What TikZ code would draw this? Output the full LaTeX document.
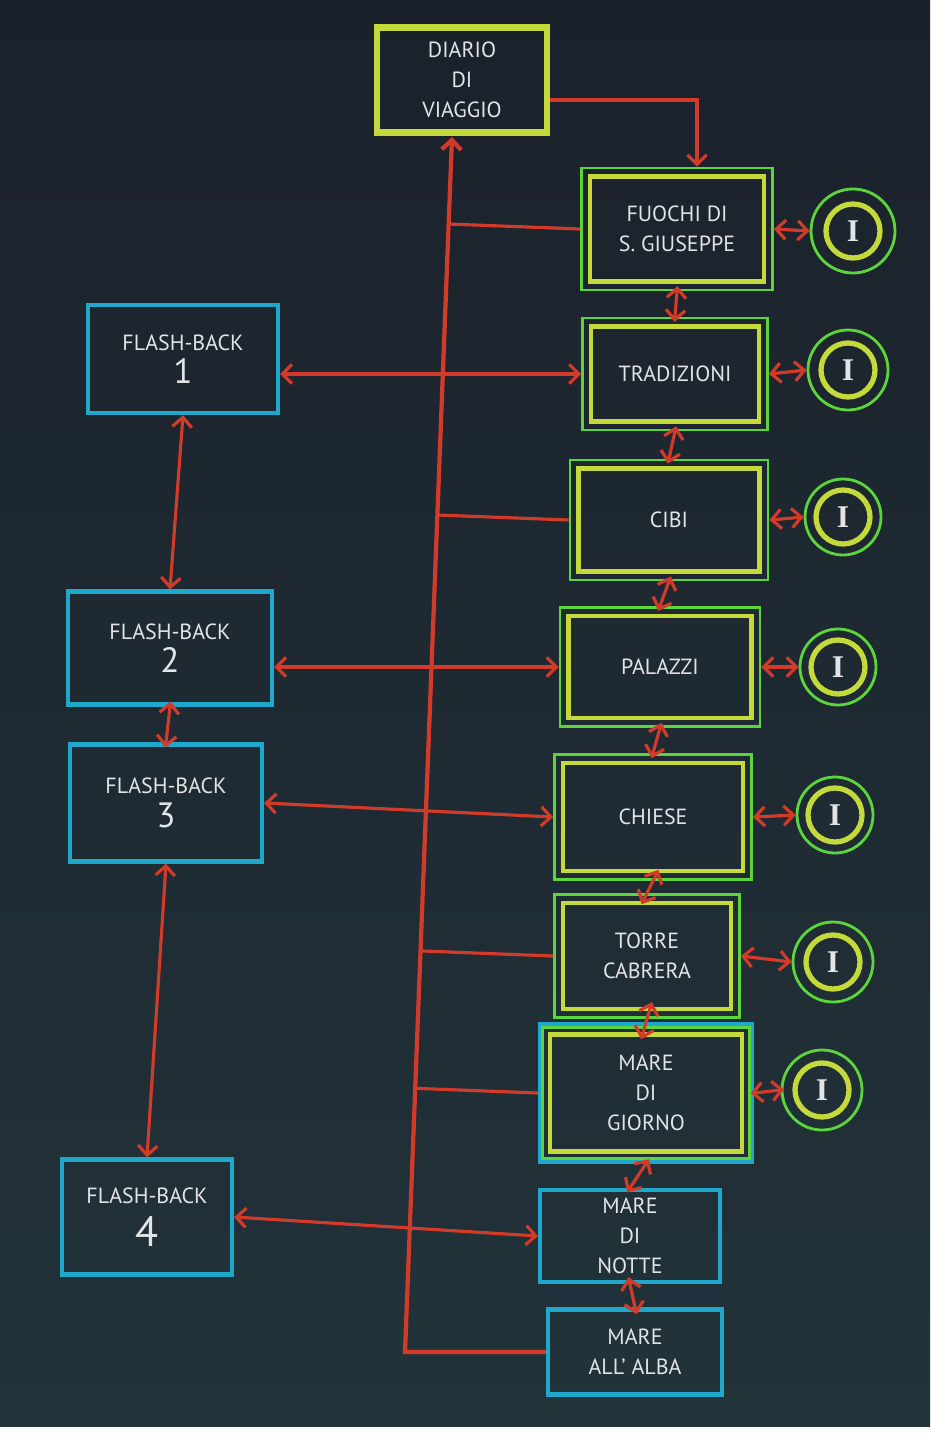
\documentclass[tikz,border=0pt]{standalone}
\usepackage{fontspec}
\setmainfont{PT Sans}
\newfontfamily\romanI{Liberation Serif}
\usetikzlibrary{arrows.meta,calc}
\definecolor{bgtop}{HTML}{1B212B}
\definecolor{bgbot}{HTML}{22333A}
\definecolor{chalkred}{HTML}{D23A2A}
\definecolor{chalkgreen}{HTML}{5CD43C}
\definecolor{chalkyellow}{HTML}{C4DA3A}
\definecolor{chalkblue}{HTML}{1FA8CC}
\definecolor{chalkwhite}{HTML}{E2E4E6}
\newcommand\insetbox[3]{\draw[#3] ($(#1.south west)+(#2,-#2)$) rectangle ($(#1.north east)+(-#2,#2)$);}
\begin{document}
\begin{tikzpicture}[x=0.02cm,y=-0.02cm,
  >={Straight Barb[length=5.5pt,width=11pt]},
  sz/.style 2 args={minimum width=#1*0.02cm, minimum height=#2*0.02cm},
  txt/.style={text=chalkwhite, align=center, font=\fontsize{12.5}{17}\selectfont, inner sep=0pt},
  gbox/.style={txt, draw=chalkgreen, line width=1.6pt},
  bbox/.style={txt, draw=chalkblue, line width=2.4pt},
  ybox/.style={txt, draw=chalkyellow, line width=3.6pt},
  circ/.style={circle, draw=chalkgreen, line width=1.6pt, text=chalkwhite, font=\romanI\bfseries\fontsize{18}{18}\selectfont, minimum size=80*0.02cm, inner sep=0pt},
  ring/.style={chalkyellow, line width=3pt},
  rline/.style={draw=chalkred, line width=1.8pt},
  arr/.style={rline, <->},
  varr/.style={rline, <->, shorten <=-3pt, shorten >=-3pt},
  larr/.style={rline, <->, shorten <=-#1, shorten >=-#1},
  inner/.style={chalkyellow, line width=2.6pt},
  ginner/.style={chalkgreen, line width=1.6pt}
]
\useasboundingbox (0,0) rectangle (930,1443);
\shade[top color=bgtop, bottom color=bgbot] (0,0) rectangle (930,1427);
\fill[white] (0,1427) rectangle (930,1443);

% right column
\node[ybox, sz={170}{105}] (diario) at (462,80) {DIARIO\\DI\\VIAGGIO};
\node[gbox, sz={191}{122}] (fuochi) at (677,229) {FUOCHI DI\\S. GIUSEPPE};
\node[gbox, sz={185}{112}] (trad) at (675,374) {TRADIZIONI};
\node[gbox, sz={198}{120}] (cibi) at (669,520) {CIBI};
\node[gbox, sz={200}{119}] (palazzi) at (660,667) {PALAZZI};
\node[gbox, sz={197}{125}] (chiese) at (653,817) {CHIESE};
\node[gbox, sz={185}{123}] (torre) at (647,956) {TORRE\\CABRERA};
\node[bbox, sz={212}{137}] (giorno) at (646,1093) {MARE\\DI\\GIORNO};
\node[bbox, sz={180}{92}] (notte) at (630,1236) {MARE\\DI\\NOTTE};
\node[bbox, sz={174}{85}] (alba) at (635,1352) {MARE\\ALL' ALBA};

\foreach \n in {fuochi,trad,cibi,palazzi,chiese,torre}{\insetbox{\n}{10}{inner}}
\insetbox{giorno}{5}{ginner}
\insetbox{giorno}{12}{inner}

% flash-backs
\node[bbox, sz={190}{108}] (fb1) at (183,359) {FLASH-BACK\\[2pt]{\fontsize{20}{20}\selectfont 1}};
\node[bbox, sz={204}{113}] (fb2) at (170,648) {FLASH-BACK\\[2pt]{\fontsize{20}{20}\selectfont 2}};
\node[bbox, sz={192}{117}] (fb3) at (166,803) {FLASH-BACK\\[2pt]{\fontsize{20}{20}\selectfont 3}};
\node[bbox, sz={170}{115}] (fb4) at (147,1217) {FLASH-BACK\\[6pt]{\fontsize{24}{24}\selectfont 4}};

% I circles
\node[circ, minimum size=84*0.02cm] (i1) at (853,231) {I};
\node[circ] (i2) at (848,370) {I};
\node[circ, minimum size=76*0.02cm] (i3) at (843,517) {I};
\node[circ, minimum size=76*0.02cm] (i4) at (838,667) {I};
\node[circ, minimum size=76*0.02cm] (i5) at (835,815) {I};
\node[circ] (i6) at (833,962) {I};
\node[circ] (i7) at (822,1090) {I};
\foreach \n in {i1,i2,i3,i4,i5,i6,i7}{\draw[ring] (\n.center) circle[radius=0.54cm];}

% spine
\coordinate (sb) at (405,1352);
\coordinate (st) at (452,137);
\draw[rline, line width=2.4pt, ->] (alba.west) -- (sb) -- (st);
\foreach \n in {fuochi,cibi,torre,giorno}{\draw[rline] ($(sb)!(\n.west)!(st)$) -- (\n.west);}

% diario -> fuochi
\draw[rline, ->] ($(diario.east)+(0,20)$) -| ($(fuochi.north)+(20,0)$);

% vertical chain
\draw[varr] (fuochi.south) -- (trad.north);
\draw[varr] (trad.south) -- (cibi.north);
\draw[varr] (cibi.south) -- (palazzi.north);
\draw[varr] (palazzi.south) -- (chiese.north);
\draw[larr=7pt] (chiese.south) -- (torre.north);
\draw[larr=10pt] (torre.south) -- (giorno.north);
\draw[varr] (giorno.south) -- (notte.north);
\draw[larr=4pt] (notte.south) -- (alba.north);

% flash-back chain
\draw[arr] (fb1.south) -- (fb2.north);
\draw[varr] (fb2.south) -- (fb3.north);
\draw[arr] (fb3.south) -- (fb4.north);

% flash-back links
\draw[arr] (fb1.east |- trad.west) -- (trad.west);
\draw[arr] (fb2.east |- palazzi.west) -- (palazzi.west);
\draw[arr] (fb3.east) -- (chiese.west);
\draw[arr] (fb4.east) -- (notte.west);

% circles
\draw[arr] (fuochi.east) -- (i1.west);
\draw[arr] (trad.east) -- (i2.west);
\draw[arr] (cibi.east) -- (i3.west);
\draw[arr] (palazzi.east) -- (i4.west);
\draw[arr] (chiese.east) -- (i5.west);
\draw[arr] (torre.east) -- (i6.west);
\draw[larr=2pt] (giorno.east) -- (i7.west);
\end{tikzpicture}
\end{document}
